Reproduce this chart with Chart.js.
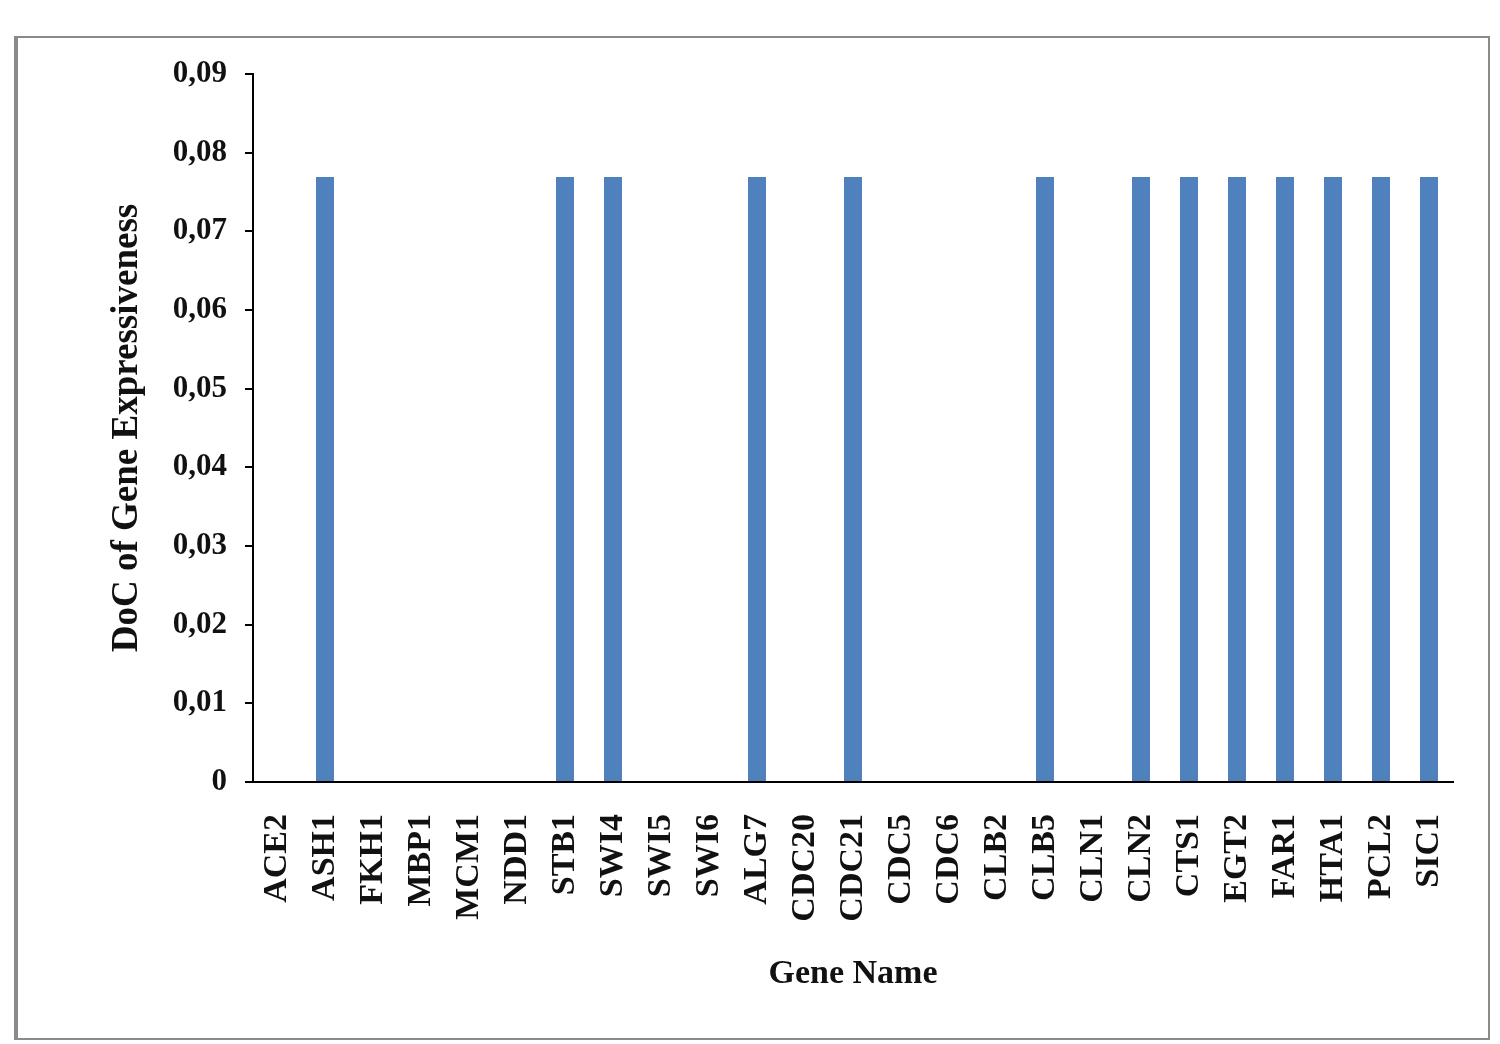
<!DOCTYPE html>
<html>
<head>
<meta charset="utf-8">
<script src="https://cdn.jsdelivr.net/npm/chart.js@4.4.1/dist/chart.umd.min.js"></script>
<style>
  html, body { margin: 0; padding: 0; background: #fff; }
  #wrap { position: absolute; left: 0; top: 0; width: 1500px; height: 1044px; }
</style>
</head>
<body>
<div id="wrap"><canvas id="c" width="1500" height="1044"></canvas></div>
<script>
const categories = ['ACE2','ASH1','FKH1','MBP1','MCM1','NDD1','STB1','SWI4','SWI5','SWI6','ALG7','CDC20','CDC21','CDC5','CDC6','CLB2','CLB5','CLN1','CLN2','CTS1','EGT2','FAR1','HTA1','PCL2','SIC1'];
const docValues = [0, 0.0769, 0, 0, 0, 0, 0.0769, 0.0769, 0, 0, 0.0769, 0, 0.0769, 0, 0, 0, 0.0769, 0, 0.0769, 0.0769, 0.0769, 0.0769, 0.0769, 0.0769, 0.0769];
const yTickLabels = ['0','0,01','0,02','0,03','0,04','0,05','0,06','0,07','0,08','0,09'];
const yTitle = 'DoC of Gene Expressiveness';
const xTitle = 'Gene Name';

const frame = {
  id: 'frame',
  beforeDraw(chart) {
    const ctx = chart.ctx;
    ctx.save();
    ctx.fillStyle = '#fff';
    ctx.fillRect(0, 0, chart.width, chart.height);
    ctx.strokeStyle = '#8a8a8a';
    ctx.lineWidth = 2;
    ctx.strokeRect(15, 37, 1474, 1002);
    ctx.lineWidth = 4;
    ctx.beginPath(); ctx.moveTo(16, 36); ctx.lineTo(16, 1040); ctx.stroke();
    ctx.restore();
  }
};

const serif = "'Liberation Serif', 'Times New Roman', serif";

new Chart(document.getElementById('c'), {
  type: 'bar',
  data: {
    labels: categories,
    datasets: [{
      data: docValues,
      backgroundColor: '#4F81BD',
      borderWidth: 0,
      categoryPercentage: 1,
      barPercentage: 0.375
    }]
  },
  options: {
    responsive: false,
    animation: false,
    devicePixelRatio: 1,
    layout: { padding: { left: 101, top: 74, right: 47, bottom: 45 } },
    plugins: { legend: { display: false }, tooltip: { enabled: false } },
    scales: {
      x: {
        afterFit(s) { s.height = 217; s.paddingLeft = 0; s.paddingRight = 0; },
        grid: { display: true, drawOnChartArea: false, drawTicks: false },
        border: { color: '#000', width: 2 },
        ticks: {
          autoSkip: false, maxRotation: 90, minRotation: 90, padding: 32,
          color: '#111',
          font: { family: serif, size: 34, weight: 'bold' }
        },
        title: {
          display: true, text: xTitle, color: '#111',
          padding: { top: 4, bottom: 4 },
          font: { family: serif, size: 34, weight: 'bold' }
        }
      },
      y: {
        min: 0, max: 0.09,
        afterFit(s) { s.width = 152; },
        grid: { display: true, drawOnChartArea: false, drawTicks: true, tickLength: 8, color: '#000', lineWidth: 2 },
        border: { color: '#000', width: 2 },
        ticks: {
          stepSize: 0.01, padding: 18, color: '#111',
          font: { family: serif, size: 31, weight: 'bold' },
          callback(v, i) { return yTickLabels[i]; }
        },
        title: {
          display: true, text: yTitle, color: '#111',
          padding: { top: 4, bottom: 4 },
          font: { family: serif, size: 37, weight: 'bold' }
        }
      }
    }
  },
  plugins: [frame]
});
</script>
</body>
</html>
